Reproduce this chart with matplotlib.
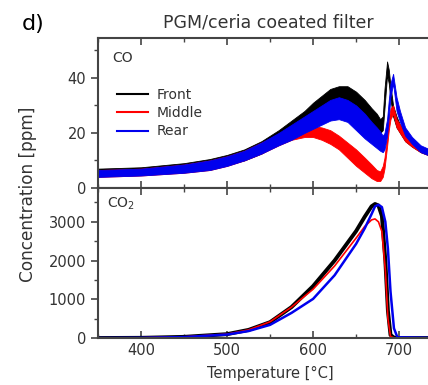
import numpy as np
import matplotlib.pyplot as plt
from matplotlib.ticker import MultipleLocator

# CO panel: noisy traces, given as lower/upper envelope
t_co = [350, 400, 450, 480, 500, 520, 540, 560, 575, 590, 600, 610, 620, 630,
        640, 650, 660, 668, 674, 678, 681, 683, 686, 688, 690, 693, 697, 701,
        707, 715, 725, 750]
front_lo = [4.5, 5, 6, 7, 8.5, 10, 12.5, 16, 18.5, 21, 23, 25, 27, 28,
            28, 26, 24, 22, 21, 20, 21, 29, 41, 38, 32, 26, 22, 20,
            17, 15, 13, 10]
front_hi = [7, 7.5, 9, 10.5, 12, 14, 17, 21, 24.5, 28, 31, 33.5, 36, 37,
            37, 35, 32, 29, 27, 25, 26, 36, 46, 43, 37, 30, 26, 23,
            20, 17.5, 15, 12]
middle_lo = [4, 4.5, 5.5, 6.5, 8, 10, 12.5, 15.5, 17.5, 18.5, 18.5, 17.5, 16, 14,
             11, 8, 5.5, 3.5, 2.5, 2.5, 4, 7, 15, 21, 25, 27, 22, 20,
             17, 15, 13, 10]
middle_hi = [6.5, 7, 8.5, 10, 11.5, 13.5, 16.5, 19.5, 21.5, 22.5, 22.5, 22, 21, 19,
             16.5, 14, 11, 8.5, 6.5, 6, 8, 11, 19, 25, 29, 30, 25, 23,
             20, 17.5, 15, 12]
rear_lo = [4, 4.5, 5.5, 6.5, 8, 10, 12.5, 15.5, 17.5, 20, 21.5, 23, 24.5, 25,
           24, 21, 18, 16, 14.5, 13.5, 13, 14, 19, 26, 33, 38, 28, 24,
           19, 16, 13, 10]
rear_hi = [6.5, 7, 8.5, 10, 11.5, 13.5, 16.5, 20, 23, 26, 28, 30, 32, 33,
           32, 30, 27, 24, 22, 20.5, 19, 20, 25, 32, 38, 41.5, 33, 28,
           22, 18.5, 15.5, 12]

# CO2 panel
t_co2 = [350, 400, 450, 500, 525, 550, 575, 600, 625, 650, 660, 668, 672,
         676, 680, 684, 687, 690, 694, 698, 750]
co2_front = [0, 5, 30, 100, 210, 410, 800, 1340, 2000, 2760, 3130, 3400, 3460,
             3420, 3150, 2000, 700, 80, 10, 0, 0]
co2_middle = [0, 5, 30, 100, 210, 420, 800, 1260, 1860, 2580, 2880, 3050, 3075,
              3000, 2750, 1750, 500, 40, 5, 0, 0]
co2_rear = [0, 5, 25, 90, 180, 340, 650, 1010, 1620, 2430, 2830, 3200, 3400,
            3440, 3380, 3000, 2300, 1200, 250, 20, 0]

labels = ['Front', 'Middle', 'Rear']
colors = ['black', '#ff0000', '#0000ee']
spine_c = '#444444'

fig = plt.figure(figsize=(4.28, 3.85), dpi=100)
ax1 = fig.add_axes([0.229, 0.512, 0.804, 0.389])
ax2 = fig.add_axes([0.229, 0.122, 0.804, 0.390])

envs = [(front_lo, front_hi), (middle_lo, middle_hi), (rear_lo, rear_hi)]
for (lo, hi), c, lab in zip(envs, colors, labels):
    ax1.fill_between(t_co, lo, hi, color=c, lw=0.6, edgecolor=c)
    ax1.plot([], [], color=c, lw=1.5, label=lab)

ax2.plot(t_co2, co2_front, color=colors[0], lw=2.8)
ax2.plot(t_co2, co2_middle, color=colors[1], lw=1.2)
ax2.plot(t_co2, co2_rear, color=colors[2], lw=1.8)

ax1.set_ylim(0, 54.5)
ax2.set_ylim(0, 3876)
for ax in (ax1, ax2):
    ax.set_xlim(350, 750)
    ax.xaxis.set_major_locator(MultipleLocator(100))
    ax.xaxis.set_minor_locator(MultipleLocator(50))
    ax.tick_params(axis='x', which='both', direction='in', top=True, bottom=True,
                   color=spine_c, labelcolor='#333333', labelsize=10.5)
    ax.tick_params(axis='x', which='major', length=5, width=1.2)
    ax.tick_params(axis='x', which='minor', length=3, width=1)
    ax.tick_params(axis='y', which='both', direction='out', right=False,
                   color=spine_c, labelcolor='#333333', labelsize=10.5)
    ax.tick_params(axis='y', which='major', length=5, width=1.2)
    ax.tick_params(axis='y', which='minor', length=3, width=1)
    for s in ax.spines.values():
        s.set_color(spine_c)
        s.set_linewidth(1.5)

ax1.yaxis.set_major_locator(MultipleLocator(20))
ax1.yaxis.set_minor_locator(MultipleLocator(10))
ax1.tick_params(axis='x', labelbottom=False)
ax2.yaxis.set_major_locator(MultipleLocator(1000))
ax2.yaxis.set_minor_locator(MultipleLocator(500))

ax1.text(0.041, 0.84, 'CO', transform=ax1.transAxes, fontsize=10, color='#333333')
ax2.text(0.026, 0.867, 'CO$_2$', transform=ax2.transAxes, fontsize=10, color='#333333')

ax1.legend(loc='upper left', bbox_to_anchor=(0.02, 0.75), frameon=False, fontsize=10,
           handlelength=2.2, handletextpad=0.6, labelspacing=0.3, labelcolor='#333333')

ax2.set_xlabel('Temperature [°C]', fontsize=10.5, color='#333333', labelpad=6)
fig.text(0.065, 0.494, 'Concentration [ppm]', rotation=90, ha='center', va='center',
         fontsize=12.2, color='#333333')
fig.text(0.628, 0.942, 'PGM/ceria coeated filter', ha='center', va='center',
         fontsize=12.5, color='#333333')
fig.text(0.05, 0.938, 'd)', ha='left', va='center', fontsize=16)

fig.savefig('out.png', dpi=100)
